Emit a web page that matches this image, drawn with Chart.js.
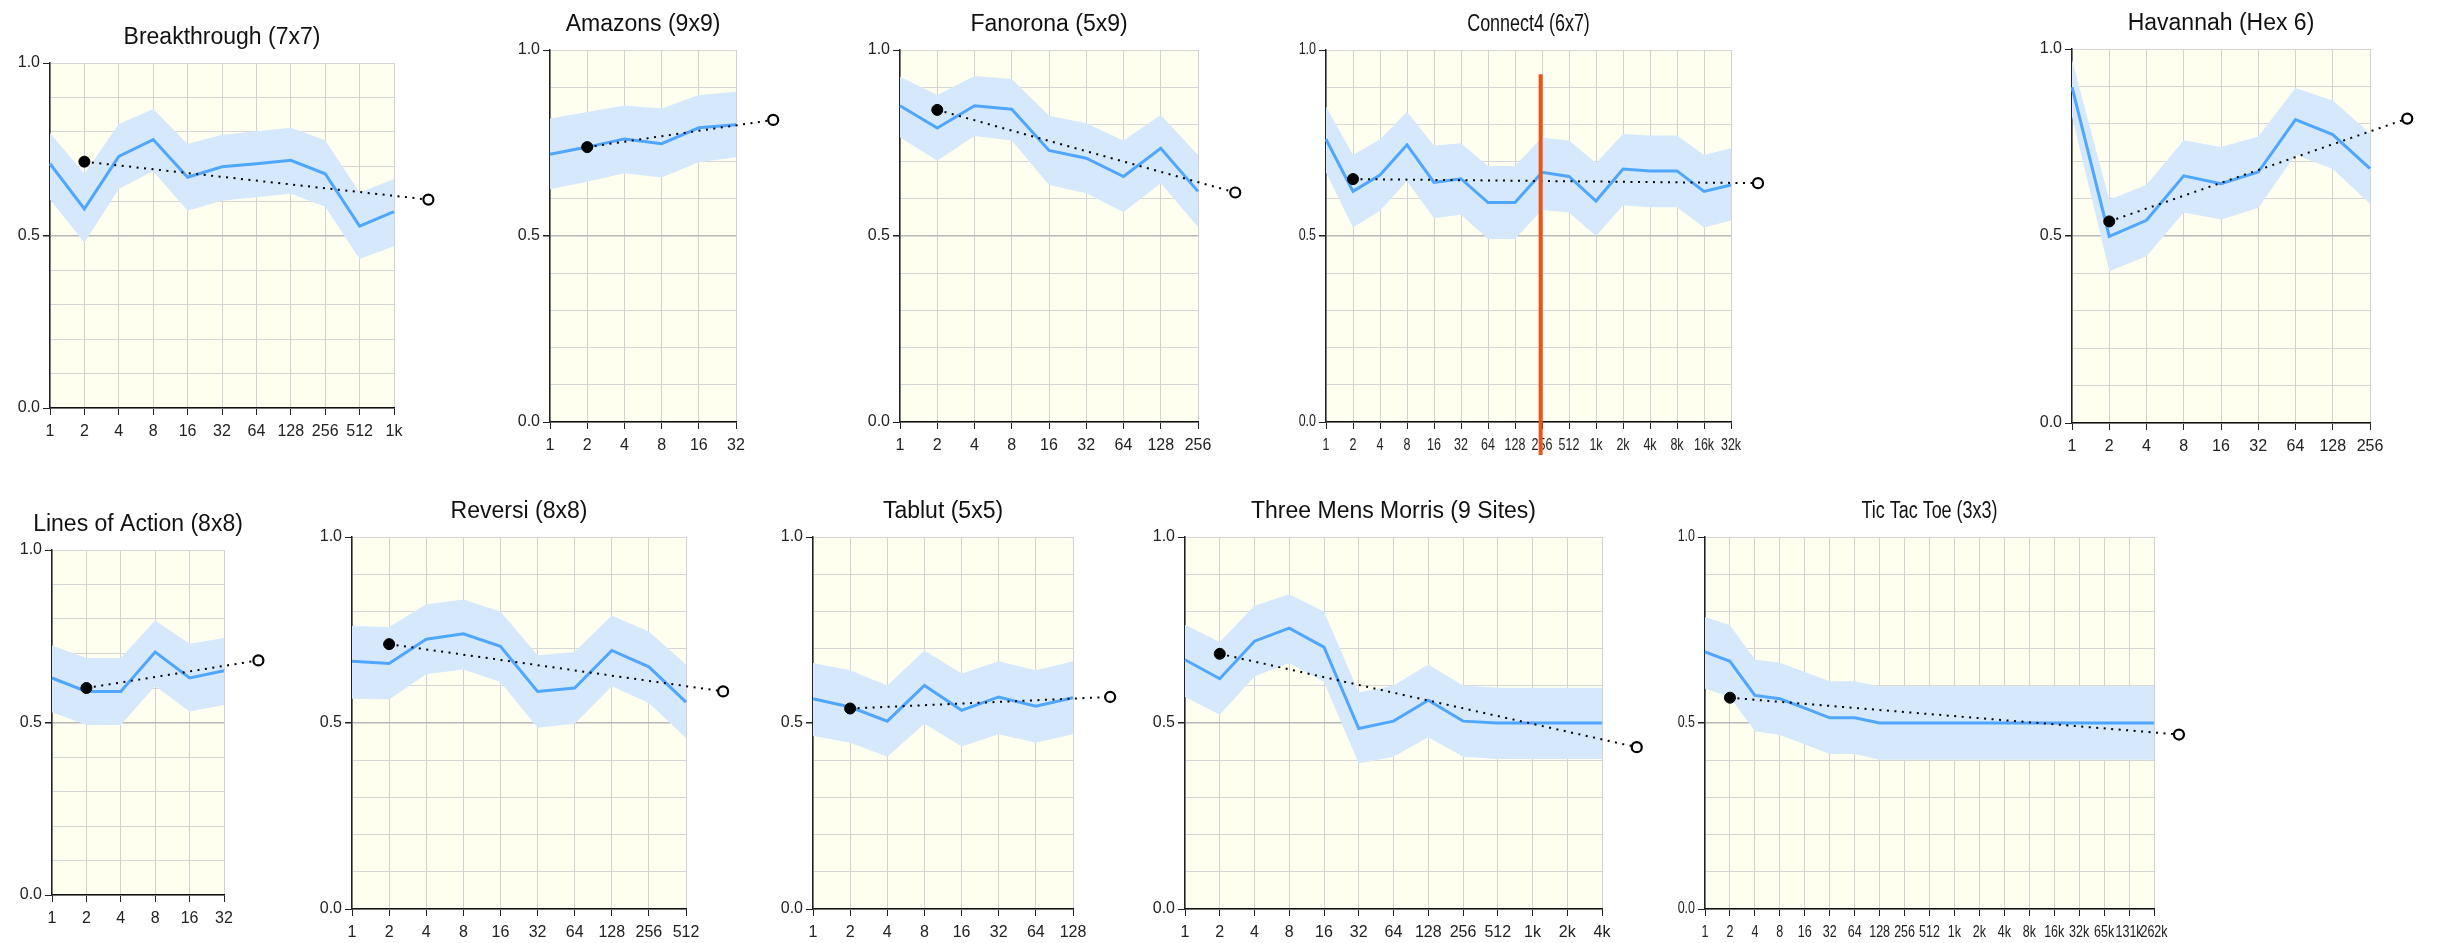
<!DOCTYPE html>
<html>
<head>
<meta charset="utf-8">
<script src="https://cdn.jsdelivr.net/npm/chart.js@4.4.1/dist/chart.umd.min.js"></script>
<style>
  html, body { margin: 0; padding: 0; background: #fff; }
  body { width: 2438px; height: 943px; position: relative; overflow: hidden; }
  .panel { position: absolute; }
</style>
</head>
<body>
<script>
// Budget labels shared by every panel (each panel uses the first n of them)
const budgets = ['1', '2', '4', '8', '16', '32', '64', '128', '256', '512',
  '1k', '2k', '4k', '8k', '16k', '32k', '65k', '131k', '262k'];
const yTicks = [0, 0.1, 0.2, 0.3, 0.4, 0.5, 0.6, 0.7, 0.8, 0.9, 1.0];

// Breakthrough (7x7)
const breakthroughMean = [0.708, 0.577, 0.729, 0.778, 0.669, 0.699, 0.708, 0.718, 0.679, 0.527, 0.569];
const breakthroughHigh = [0.797, 0.679, 0.823, 0.867, 0.765, 0.792, 0.802, 0.812, 0.776, 0.625, 0.664];
const breakthroughLow = [0.604, 0.480, 0.635, 0.686, 0.572, 0.601, 0.611, 0.621, 0.583, 0.432, 0.469];
const breakthroughTrend = [0.714, 0.604];

// Amazons (9x9)
const amazonsMean = [0.720, 0.739, 0.761, 0.748, 0.791, 0.799];
const amazonsHigh = [0.816, 0.833, 0.851, 0.843, 0.879, 0.888];
const amazonsLow = [0.626, 0.646, 0.669, 0.657, 0.698, 0.712];
const amazonsTrend = [0.739, 0.812];

// Fanorona (5x9)
const fanoronaMean = [0.850, 0.790, 0.850, 0.841, 0.730, 0.709, 0.660, 0.736, 0.620];
const fanoronaHigh = [0.928, 0.879, 0.930, 0.922, 0.823, 0.803, 0.757, 0.825, 0.718];
const fanoronaLow = [0.765, 0.702, 0.769, 0.757, 0.637, 0.615, 0.564, 0.642, 0.524];
const fanoronaTrend = [0.839, 0.617];

// Connect4 (6x7)
const connect4Mean = [0.760, 0.620, 0.664, 0.745, 0.644, 0.654, 0.590, 0.590, 0.671, 0.660, 0.594, 0.680, 0.675, 0.675, 0.620, 0.637];
const connect4High = [0.848, 0.718, 0.760, 0.834, 0.743, 0.749, 0.688, 0.688, 0.765, 0.757, 0.696, 0.774, 0.770, 0.770, 0.718, 0.736];
const connect4Low = [0.671, 0.523, 0.568, 0.648, 0.548, 0.557, 0.492, 0.492, 0.570, 0.563, 0.500, 0.582, 0.577, 0.577, 0.523, 0.542];
const connect4Trend = [0.653, 0.642];
// red marker between 128 and 256 (x in budget steps, y span in win rate)
const connect4MarkerX = 7.95;
const connect4MarkerY = [0.935, -0.089];

// Havannah (Hex 6)
const havannahMean = [0.898, 0.499, 0.542, 0.661, 0.640, 0.671, 0.811, 0.771, 0.680];
const havannahHigh = [0.971, 0.597, 0.637, 0.756, 0.738, 0.766, 0.896, 0.862, 0.775];
const havannahLow = [0.820, 0.406, 0.446, 0.563, 0.544, 0.575, 0.717, 0.679, 0.586];
const havannahTrend = [0.539, 0.814];

// Lines of Action (8x8)
const loaMean = [0.629, 0.590, 0.590, 0.704, 0.629, 0.650];
const loaHigh = [0.723, 0.687, 0.687, 0.796, 0.728, 0.745];
const loaLow = [0.530, 0.493, 0.493, 0.606, 0.532, 0.551];
const loaTrend = [0.600, 0.680];

// Reversi (8x8)
const reversiMean = [0.666, 0.660, 0.725, 0.740, 0.706, 0.585, 0.594, 0.695, 0.651, 0.556];
const reversiHigh = [0.761, 0.758, 0.819, 0.832, 0.800, 0.682, 0.691, 0.789, 0.746, 0.657];
const reversiLow = [0.565, 0.563, 0.631, 0.644, 0.610, 0.487, 0.498, 0.599, 0.554, 0.460];
const reversiTrend = [0.712, 0.585];

// Tablut (5x5)
const tablutMean = [0.565, 0.543, 0.505, 0.601, 0.534, 0.570, 0.545, 0.568];
const tablutHigh = [0.661, 0.642, 0.601, 0.695, 0.633, 0.666, 0.642, 0.666];
const tablutLow = [0.465, 0.447, 0.409, 0.498, 0.437, 0.470, 0.447, 0.470];
const tablutTrend = [0.539, 0.570];

// Three Mens Morris (9 Sites)
const morrisMean = [0.670, 0.619, 0.720, 0.755, 0.704, 0.485, 0.505, 0.561, 0.505, 0.500, 0.500, 0.500, 0.500];
const morrisHigh = [0.764, 0.718, 0.815, 0.846, 0.800, 0.582, 0.601, 0.657, 0.601, 0.595, 0.595, 0.595, 0.595];
const morrisLow = [0.570, 0.522, 0.625, 0.661, 0.610, 0.391, 0.409, 0.462, 0.409, 0.403, 0.403, 0.403, 0.403];
const morrisTrend = [0.686, 0.435];

// Tic Tac Toe (3x3)
const tttMean = [0.691, 0.666, 0.574, 0.565, 0.540, 0.514, 0.514, 0.500, 0.500, 0.500, 0.500, 0.500, 0.500, 0.500, 0.500, 0.500, 0.500, 0.500, 0.500];
const tttHigh = [0.785, 0.763, 0.671, 0.662, 0.637, 0.612, 0.612, 0.599, 0.599, 0.599, 0.599, 0.599, 0.599, 0.599, 0.599, 0.599, 0.599, 0.599, 0.599];
const tttLow = [0.592, 0.570, 0.478, 0.468, 0.442, 0.417, 0.417, 0.401, 0.401, 0.401, 0.401, 0.401, 0.401, 0.401, 0.401, 0.401, 0.401, 0.401, 0.401];
const tttTrend = [0.568, 0.469];

// Styles
const FONT = "'Liberation Sans', Arial, Helvetica, sans-serif";
const LINE_BLUE = '#4ea6ff';
const BAND_BLUE = '#d6e9fc';
const PLOT_BG = '#fffff0';
const NARROW_FACTOR = 0.78; // Connect4 / Tic Tac Toe text is horizontally squeezed

// Panel layout: plot area rectangle [left, top, right, bottom] in page pixels
const panels = [
  { title: 'Breakthrough (7x7)', mean: breakthroughMean, high: breakthroughHigh, low: breakthroughLow, trend: breakthroughTrend, rect: [50, 63, 394, 408] },
  { title: 'Amazons (9x9)', mean: amazonsMean, high: amazonsHigh, low: amazonsLow, trend: amazonsTrend, rect: [550, 50, 736, 422] },
  { title: 'Fanorona (5x9)', mean: fanoronaMean, high: fanoronaHigh, low: fanoronaLow, trend: fanoronaTrend, rect: [900, 50, 1198, 422] },
  { title: 'Connect4 (6x7)', mean: connect4Mean, high: connect4High, low: connect4Low, trend: connect4Trend, rect: [1326, 50, 1731, 422], narrow: true, marker: true },
  { title: 'Havannah (Hex 6)', mean: havannahMean, high: havannahHigh, low: havannahLow, trend: havannahTrend, rect: [2072, 49, 2370, 423] },
  { title: 'Lines of Action (8x8)', mean: loaMean, high: loaHigh, low: loaLow, trend: loaTrend, rect: [52, 550, 224, 895] },
  { title: 'Reversi (8x8)', mean: reversiMean, high: reversiHigh, low: reversiLow, trend: reversiTrend, rect: [352, 537, 686, 909] },
  { title: 'Tablut (5x5)', mean: tablutMean, high: tablutHigh, low: tablutLow, trend: tablutTrend, rect: [813, 537, 1073, 909] },
  { title: 'Three Mens Morris (9 Sites)', mean: morrisMean, high: morrisHigh, low: morrisLow, trend: morrisTrend, rect: [1185, 537, 1602, 909] },
  { title: 'Tic Tac Toe (3x3)', mean: tttMean, high: tttHigh, low: tttLow, trend: tttTrend, rect: [1705, 537, 2154, 909], narrow: true }
];

const AXIS_W = 60;    // room for y labels
const AXIS_H = 40;    // room for x labels
const PAD_TOP = 50;   // room for the title
const PAD_RIGHT = 50; // room for the open end point

// Light yellow plot background
const plotBg = {
  id: 'plotBg',
  beforeDraw(chart) {
    const { ctx, chartArea: a } = chart;
    ctx.save();
    ctx.fillStyle = PLOT_BG;
    ctx.fillRect(a.left, a.top, a.right - a.left, a.bottom - a.top);
    ctx.restore();
  }
};

// Squeeze tick label text horizontally (labels are drawn translated then rotated by 0)
const narrowText = {
  id: 'narrowText',
  beforeDraw(chart, args, opts) {
    if (!opts.factor) return;
    const ctx = chart.ctx;
    const orig = ctx.rotate;
    chart.$origRotate = orig;
    ctx.rotate = function (a) {
      orig.call(this, a);
      this.scale(opts.factor, 1);
    };
  },
  afterDraw(chart) {
    if (chart.$origRotate) {
      delete chart.ctx.rotate;
      chart.$origRotate = null;
    }
  }
};

// Title centred over the plot area
const panelTitle = {
  id: 'panelTitle',
  afterDraw(chart, args, opts) {
    const { ctx, chartArea: a } = chart;
    ctx.save();
    ctx.font = '23px ' + FONT;
    ctx.fillStyle = '#111';
    ctx.textAlign = 'center';
    ctx.textBaseline = 'middle';
    ctx.translate((a.left + a.right) / 2, a.top - 25);
    ctx.scale(opts.factor || 1, 1);
    ctx.fillText(opts.text, 0, 0);
    ctx.restore();
  }
};

// Open circle at the end of the dotted trend (sits one step right of the last budget)
const endPoint = {
  id: 'endPoint',
  afterDatasetsDraw(chart, args, opts) {
    const meta = chart.getDatasetMeta(opts.index);
    const pt = meta.data[meta.data.length - 1];
    const ctx = chart.ctx;
    ctx.save();
    ctx.beginPath();
    ctx.arc(pt.x, pt.y, 5, 0, Math.PI * 2);
    ctx.fillStyle = '#fff';
    ctx.fill();
    ctx.lineWidth = 2.2;
    ctx.strokeStyle = '#000';
    ctx.stroke();
    ctx.restore();
  }
};

function isMajor(v) {
  return Math.abs(Math.round(v * 10) % 5) === 0;
}

function makePanel(p) {
  const labels = budgets.slice(0, p.mean.length);
  const n = labels.length;
  const [L, T, R, B] = p.rect;

  const wrap = document.createElement('div');
  wrap.className = 'panel';
  const w = (R - L) + AXIS_W + PAD_RIGHT;
  const h = (B - T) + PAD_TOP + AXIS_H;
  wrap.style.left = (L - AXIS_W) + 'px';
  wrap.style.top = (T - PAD_TOP) + 'px';
  wrap.style.width = w + 'px';
  wrap.style.height = h + 'px';
  const canvas = document.createElement('canvas');
  canvas.width = w;
  canvas.height = h;
  wrap.appendChild(canvas);
  document.body.appendChild(wrap);

  const datasets = [];
  if (p.marker) {
    datasets.push({
      data: connect4MarkerY.map(y => ({ x: connect4MarkerX, y })),
      borderColor: '#ea5418',
      borderWidth: 4,
      pointRadius: 0,
      clip: false
    });
  }
  const trendIndex = datasets.length;
  // dotted trend from budget 2 to one step beyond the last budget
  datasets.push({
    data: [{ x: 1, y: p.trend[0] }, { x: n, y: p.trend[1] }],
    borderColor: '#000',
    borderWidth: 2,
    borderDash: [2, 5.5],
    pointRadius: [5.5, 0],
    pointBackgroundColor: '#000',
    pointBorderColor: '#000',
    pointBorderWidth: 1,
    clip: false
  });
  datasets.push({
    data: p.mean.map((y, i) => ({ x: i, y })),
    borderColor: LINE_BLUE,
    borderWidth: 3,
    pointRadius: 0
  });
  datasets.push({
    data: p.high.map((y, i) => ({ x: i, y })),
    borderWidth: 0,
    borderColor: 'rgba(0,0,0,0)',
    backgroundColor: BAND_BLUE,
    fill: '+1',
    pointRadius: 0
  });
  datasets.push({
    data: p.low.map((y, i) => ({ x: i, y })),
    borderWidth: 0,
    borderColor: 'rgba(0,0,0,0)',
    fill: false,
    pointRadius: 0
  });

  const tickFont = { family: FONT, size: 16 };

  new Chart(canvas, {
    type: 'line',
    data: { datasets },
    plugins: [plotBg, narrowText, endPoint, panelTitle],
    options: {
      responsive: false,
      animation: false,
      layout: { padding: { top: PAD_TOP, right: PAD_RIGHT, left: 0, bottom: 0 } },
      plugins: {
        legend: { display: false },
        tooltip: { enabled: false },
        narrowText: { factor: p.narrow ? NARROW_FACTOR : 0 },
        endPoint: { index: trendIndex },
        panelTitle: { text: p.title, factor: p.narrow ? NARROW_FACTOR : 1 }
      },
      scales: {
        x: {
          type: 'linear',
          bounds: 'data',
          afterDataLimits: s => { s.min = 0; s.max = n - 1; },
          afterBuildTicks: s => { s.min = 0; s.max = n - 1; s.ticks = labels.map((_, i) => ({ value: i })); },
          afterFit: s => { s.height = AXIS_H; },
          ticks: {
            autoSkip: false,
            maxRotation: 0,
            minRotation: 0,
            padding: 7,
            color: '#222',
            font: tickFont,
            callback: v => labels[v] !== undefined ? labels[v] : ''
          },
          grid: { color: '#d2d2d2', lineWidth: 1, tickLength: 7, tickColor: '#222' },
          border: { color: '#111', width: 1.5 }
        },
        y: {
          min: 0,
          max: 1,
          afterBuildTicks: s => { s.ticks = yTicks.map(v => ({ value: v })); },
          afterFit: s => { s.width = AXIS_W; },
          ticks: {
            padding: 3,
            color: '#222',
            font: tickFont,
            callback: v => isMajor(v) ? v.toFixed(1) : ''
          },
          grid: {
            color: ctx => (ctx.tick && Math.abs(ctx.tick.value - 0.5) < 0.01) ? '#b8b8b8' : '#d6d6d6',
            lineWidth: ctx => (ctx.tick && Math.abs(ctx.tick.value - 0.5) < 0.01) ? 1.5 : 1,
            tickLength: 7,
            tickColor: ctx => (ctx.tick && isMajor(ctx.tick.value)) ? '#222' : 'rgba(0,0,0,0)'
          },
          border: { color: '#222', width: 1.5 }
        }
      }
    }
  });
}

panels.forEach(makePanel);
</script>
</body>
</html>
